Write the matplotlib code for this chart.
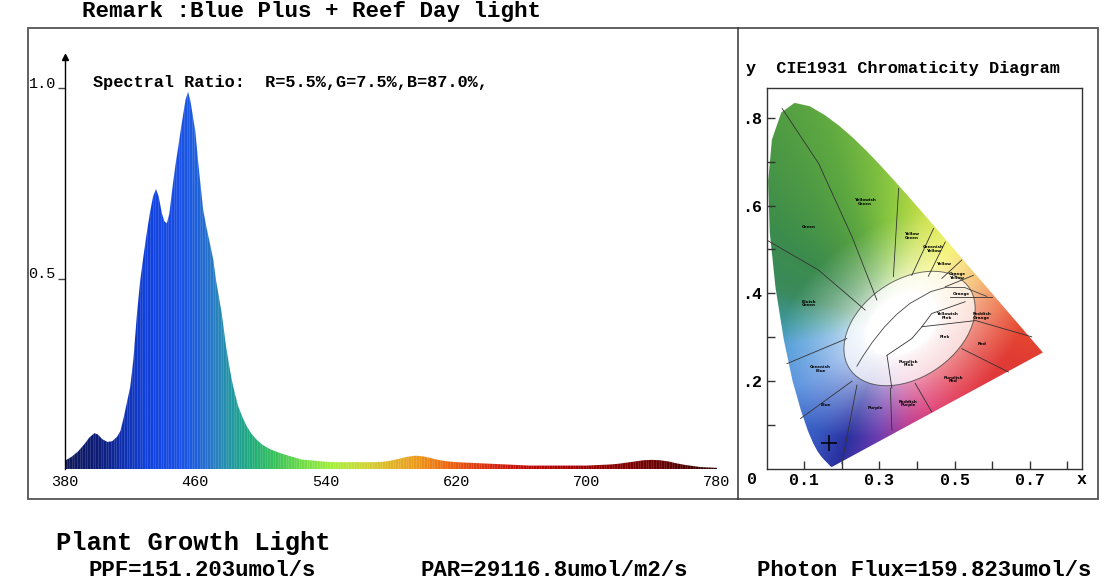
import numpy as np
import matplotlib
matplotlib.use("Agg")
import matplotlib.pyplot as plt
from matplotlib.colors import LinearSegmentedColormap, Normalize, to_rgb
from matplotlib.patches import Polygon, Ellipse, Rectangle
from matplotlib.lines import Line2D

plt.rcParams['font.family'] = ['Liberation Mono', 'DejaVu Sans Mono']

W, H = 1114, 588

# ---- spectrum (relative intensity, denser around the peaks) ----
wavelengths = [380, 384, 388, 392, 395, 398, 400, 403, 406, 409, 412, 414, 416, 418, 420,
               422, 424, 426, 428, 430, 432, 434, 435.8, 437.5, 439.5, 441, 442.5, 444,
               446.4, 448, 449.5, 451, 452.6, 454, 455.5, 457, 458.5, 460, 461.5, 462.8,
               464.8, 466.5, 468, 469.5, 471, 472.6, 474.5, 476.1, 477.5, 478.8, 480.5,
               482.3, 484.3, 486.3, 489, 491.5, 494.5, 497.6, 501, 505.8, 511.9, 517, 522,
               525, 530, 535, 540, 545, 550, 555, 560, 565, 570, 575, 580, 585, 590, 595,
               600, 605, 610, 615, 620, 625, 630, 635, 640, 645, 650, 655, 660, 665, 670,
               680, 690, 700, 705, 710, 715, 720, 725, 730, 735, 740, 745, 750, 755, 760,
               765, 770, 775, 780]
intensity = [0.022, 0.032, 0.046, 0.066, 0.083, 0.094, 0.091, 0.078, 0.071, 0.073, 0.085,
             0.100, 0.135, 0.175, 0.215, 0.290, 0.400, 0.490, 0.555, 0.615, 0.670, 0.715,
             0.735, 0.715, 0.670, 0.650, 0.645, 0.670, 0.755, 0.805, 0.846, 0.890, 0.934,
             0.970, 0.990, 0.965, 0.925, 0.885, 0.815, 0.760, 0.680, 0.640, 0.610, 0.580,
             0.549, 0.497, 0.450, 0.410, 0.365, 0.322, 0.278, 0.234, 0.197, 0.164, 0.135,
             0.112, 0.092, 0.077, 0.064, 0.052, 0.042, 0.035, 0.029, 0.025, 0.023, 0.021,
             0.019, 0.018, 0.018, 0.018, 0.018, 0.018, 0.018, 0.019, 0.022, 0.027, 0.032,
             0.035, 0.033, 0.028, 0.023, 0.020, 0.018, 0.017, 0.016, 0.015, 0.014, 0.013,
             0.012, 0.011, 0.010, 0.009, 0.009, 0.009, 0.009, 0.009, 0.010, 0.011, 0.012,
             0.014, 0.017, 0.020, 0.023, 0.024, 0.023, 0.020, 0.015, 0.011, 0.008, 0.005,
             0.004, 0.003]
x_ticks = [380, 460, 540, 620, 700, 780]
y_ticks = [0.5, 1.0]

# colour of the bars along the wavelength axis
spec_nm = [380, 400, 415, 430, 450, 462, 472, 482, 495, 510, 525, 545,
           565, 580, 595, 610, 625, 645, 665, 690, 720, 750, 780]
spec_hex = ['#101a5a', '#0c1c78', '#1030b0', '#1040dc', '#1a50e6', '#2064d8',
            '#2a80c0', '#209aa0', '#22ae78', '#3cc458', '#70dc48', '#a8f03c',
            '#d0d434', '#e0b428', '#ec9c1c', '#ee7412', '#e64e10', '#d42410',
            '#c00a08', '#a80000', '#880000', '#620000', '#300000']

# ---- CIE 1931 spectral locus ----
locus_x = [0.1741, 0.1740, 0.1738, 0.1736, 0.1733, 0.1730, 0.1726, 0.1721, 0.1714, 0.1703,
           0.1689, 0.1669, 0.1644, 0.1611, 0.1566, 0.1510, 0.1440, 0.1355, 0.1241, 0.1096,
           0.0913, 0.0687, 0.0454, 0.0235, 0.0082, 0.0039, 0.0139, 0.0389, 0.0743, 0.1142,
           0.1547, 0.1929, 0.2296, 0.2658, 0.3016, 0.3373, 0.3731, 0.4087, 0.4441, 0.4788,
           0.5125, 0.5448, 0.5752, 0.6029, 0.6270, 0.6482, 0.6658, 0.6801, 0.6915, 0.7006,
           0.7079, 0.7140, 0.7190, 0.7230, 0.7260, 0.7300, 0.7320, 0.7334, 0.7347]
locus_y = [0.0050, 0.0050, 0.0049, 0.0049, 0.0048, 0.0048, 0.0048, 0.0048, 0.0051, 0.0058,
           0.0069, 0.0086, 0.0109, 0.0138, 0.0177, 0.0227, 0.0297, 0.0399, 0.0578, 0.0868,
           0.1327, 0.2007, 0.2950, 0.4127, 0.5384, 0.6548, 0.7502, 0.8120, 0.8338, 0.8262,
           0.8059, 0.7816, 0.7543, 0.7243, 0.6923, 0.6589, 0.6245, 0.5896, 0.5547, 0.5202,
           0.4866, 0.4544, 0.4242, 0.3965, 0.3725, 0.3514, 0.3340, 0.3197, 0.3083, 0.2993,
           0.2920, 0.2859, 0.2809, 0.2770, 0.2740, 0.2700, 0.2680, 0.2666, 0.2653]

planck_x = [0.5857, 0.5267, 0.4770, 0.4369, 0.3805, 0.3451, 0.3135, 0.2807, 0.2565, 0.2399]
planck_y = [0.3931, 0.4133, 0.4137, 0.4041, 0.3768, 0.3516, 0.3237, 0.2884, 0.2577, 0.2342]

# hue of the painted diagram by direction from the white point (degrees)
hue_deg = [0, 12, 22, 35, 48, 70, 90, 110, 125, 145, 165, 180, 190, 210, 232, 246,
           262, 280, 300, 325, 345, 360]
hue_hex = ['#e64a30', '#ec6a30', '#f09a30', '#f4cc3c', '#f2f040', '#c8e048', '#8cc840',
           '#60aa40', '#4e9a44', '#3c8c4c', '#3a8a5c', '#3e98a0', '#4c9ad8', '#4c88dc',
           '#3858c0', '#2a30a0', '#6a3cb0', '#b83890', '#e03a70', '#e23a48', '#e03a34',
           '#e64a30']

# colour-name regions (approximate boundaries)
kelly_lines = [
    [(0.041, 0.821), (0.138, 0.696), (0.227, 0.529), (0.293, 0.385)],
    [(0.001, 0.521), (0.138, 0.453), (0.262, 0.362)],
    [(0.351, 0.639), (0.337, 0.438)],
    [(0.444, 0.548), (0.386, 0.441)],
    [(0.475, 0.517), (0.430, 0.439)],
    [(0.519, 0.476), (0.466, 0.434)],
    [(0.550, 0.441), (0.475, 0.415)],
    [(0.599, 0.392), (0.488, 0.392)],
    [(0.705, 0.301), (0.556, 0.338), (0.413, 0.324)],
    [(0.643, 0.221), (0.519, 0.274)],
    [(0.439, 0.130), (0.395, 0.195)],
    [(0.333, 0.088), (0.329, 0.184)],
    [(0.200, 0.012), (0.240, 0.191)],
    [(0.090, 0.115), (0.227, 0.200)],
    [(0.054, 0.240), (0.213, 0.297)],
    [(0.320, 0.259), (0.333, 0.184)],
    [(0.320, 0.259), (0.386, 0.297), (0.413, 0.324), (0.439, 0.354), (0.528, 0.381)],
]
kelly_names = ['Yellowish\nGreen', 'Green', 'Yellow\nGreen', 'Greenish\nYellow', 'Yellow',
               'Orange\nYellow', 'Orange', 'Bluish\nGreen', 'Yellowish\nPink', 'Reddish\nOrange',
               'Pink', 'Red', 'Purplish\nPink', 'Greenish\nBlue', 'Purplish\nRed', 'Blue',
               'Purple', 'Reddish\nPurple']
kelly_x = [0.262, 0.112, 0.386, 0.444, 0.470, 0.506, 0.519, 0.112, 0.479, 0.572,
           0.473, 0.572, 0.377, 0.143, 0.497, 0.156, 0.289, 0.377]
kelly_y = [0.608, 0.552, 0.531, 0.501, 0.468, 0.440, 0.398, 0.377, 0.348, 0.348,
           0.300, 0.284, 0.240, 0.227, 0.204, 0.145, 0.139, 0.149]

source_xy = (0.167, 0.060)

title = "Remark :Blue Plus + Reef Day light"
ratio_text = "Spectral Ratio:  R=5.5%,G=7.5%,B=87.0%,"
cie_title = "y  CIE1931 Chromaticity Diagram"
footer_head = "Plant Growth Light"
footer_items = ["PPF=151.203umol/s", "PAR=29116.8umol/m2/s", "Photon Flux=159.823umol/s"]


def fx(px):
    return px / W


def fy(py):
    return 1 - py / H


fig = plt.figure(figsize=(W / 100, H / 100), dpi=100)
fig.patch.set_facecolor('white')

# outer frame + divider
fig.add_artist(Rectangle((fx(27.5), fy(499)), fx(1098) - fx(27.5), (499 - 28) / H,
                         transform=fig.transFigure, fill=False, ec='#555555', lw=1.3))
fig.add_artist(Line2D([fx(738), fx(738)], [fy(28), fy(499)], transform=fig.transFigure,
                      color='#333333', lw=1.1))

# ---------------- spectrum panel ----------------
y_top = (469 - 57) / 381
ax = fig.add_axes([fx(65), fy(469), fx(717) - fx(65), (469 - 57) / H])
ax.set_xlim(380, 780)
ax.set_ylim(0, y_top)

spec_cmap = LinearSegmentedColormap.from_list(
    'spec', [((n - 380) / 400, c) for n, c in zip(spec_nm, spec_hex)])
fill = ax.fill_between(wavelengths, 0, intensity, color='none', lw=0)
clip = fill.get_paths()[0]
grad = np.linspace(380, 780, 801)[None, :]
img = ax.imshow(grad, cmap=spec_cmap, norm=Normalize(380, 780), extent=[380, 780, 0, y_top],
                aspect='auto', origin='lower', interpolation='bilinear')
img.set_clip_path(clip, ax.transData)
# fine light streaks like the original bar rendering
streaks = ax.vlines(np.arange(381, 780, 1.6), 0, y_top, color='white', lw=0.45, alpha=0.22)
streaks.set_clip_path(clip, ax.transData)

for s in ['top', 'right', 'bottom']:
    ax.spines[s].set_visible(False)
ax.spines['left'].set_color('black')
ax.spines['left'].set_linewidth(1.0)
ax.plot([0], [1], marker='^', color='black', ms=5, transform=ax.transAxes, clip_on=False)

ax.set_xticks(x_ticks)
ax.set_xticklabels([str(t) for t in x_ticks], fontsize=11)
ax.tick_params(axis='x', length=0, pad=4)
ax.set_yticks(y_ticks)
ax.set_yticklabels(['%.1f' % t for t in y_ticks], fontsize=11, va='baseline')
ax.tick_params(axis='y', direction='out', length=5, width=1, color='#444444', pad=1.5)

fig.text(fx(93), fy(83), ratio_text, fontsize=12.2, fontweight='bold', va='center')

# ---------------- CIE panel ----------------
cx = fig.add_axes([fx(766.7), fy(469), fx(1081.7) - fx(766.7), (469 - 88.3) / H])
cx.set_xlim(0, 0.838)
cx.set_ylim(0, 0.867)

gx, gy = np.meshgrid(np.linspace(0, 0.838, 420), np.linspace(0.0, 0.867, 440))
dx, dy = gx - 0.33, gy - 0.33
ang = np.degrees(np.arctan2(dy, dx)) % 360
hue_rgb = np.array([to_rgb(c) for c in hue_hex])
col = np.stack([np.interp(ang, hue_deg, hue_rgb[:, k]) for k in range(3)], axis=-1)
ca, sa = np.cos(np.radians(25)), np.sin(np.radians(25))
u = (gx - 0.36) * ca + (gy - 0.33) * sa
v = -(gx - 0.36) * sa + (gy - 0.33) * ca
rho = np.sqrt((u / 0.2) ** 2 + (v / 0.13) ** 2)
t = np.clip((rho - 0.5) / 1.3, 0, 1) ** 0.6
rgb = (1 - t[..., None]) + t[..., None] * col

cie_img = cx.imshow(rgb, extent=[0, 0.838, 0, 0.867], origin='lower', aspect='auto',
                    interpolation='bilinear')
locus_patch = Polygon(np.column_stack([locus_x, locus_y]), closed=True, fc='none', ec='none')
cx.add_patch(locus_patch)
cie_img.set_clip_path(locus_patch)

white_zone = Ellipse((0.38, 0.32), 0.37, 0.23, angle=25, fc='white', ec='#333333', lw=0.7,
                     alpha=0.7)
cx.add_patch(white_zone)
for seg in kelly_lines:
    xs, ys = zip(*seg)
    cx.plot(xs, ys, color='#333333', lw=0.6)
cx.plot(planck_x, planck_y, color='#444444', lw=0.6)
for name, kx, ky in zip(kelly_names, kelly_x, kelly_y):
    cx.text(kx, ky, name, fontsize=3, fontweight='bold', ha='center', va='center',
            family='DejaVu Sans', linespacing=0.9)
cx.plot(*source_xy, marker='+', color='black', ms=11, mew=1.1)

for s in cx.spines.values():
    s.set_color('#333333')
    s.set_linewidth(1.0)
cie_x_ticks = [0.1, 0.2, 0.3, 0.4, 0.5, 0.6, 0.7, 0.8]
cie_y_ticks = [0.1, 0.2, 0.3, 0.4, 0.5, 0.6, 0.7, 0.8]
cx.set_xticks(cie_x_ticks)
cx.set_xticklabels(['%.1f' % t if i % 2 == 0 else '' for i, t in enumerate(cie_x_ticks)],
                   fontsize=12, fontweight='bold')
cx.set_yticks(cie_y_ticks)
cx.set_yticklabels(['.%d' % round(t * 10) if i % 2 == 1 else '' for i, t in enumerate(cie_y_ticks)],
                   fontsize=12, fontweight='bold')
cx.tick_params(direction='in', length=6, width=1, color='#333333')
cx.tick_params(axis='x', pad=3)
cx.tick_params(axis='y', pad=3)

fig.text(fx(746), fy(68), cie_title, fontsize=12.2, fontweight='bold', va='center')
fig.text(fx(752), fy(480), '0', fontsize=12, fontweight='bold', va='center', ha='center')
fig.text(fx(1082), fy(480), 'x', fontsize=12, fontweight='bold', va='center', ha='center')

# ---------------- titles / footer ----------------
fig.text(fx(82), fy(12), title, fontsize=16.2, fontweight='bold', va='center')
fig.text(fx(56), fy(543), footer_head, fontsize=18.4, fontweight='bold', va='center')
for txt, px in zip(footer_items, [88, 420, 757]):
    fig.text(fx(px), fy(571), txt, fontsize=16.1, fontweight='bold', va='center')

fig.savefig('out.png', dpi=100)
